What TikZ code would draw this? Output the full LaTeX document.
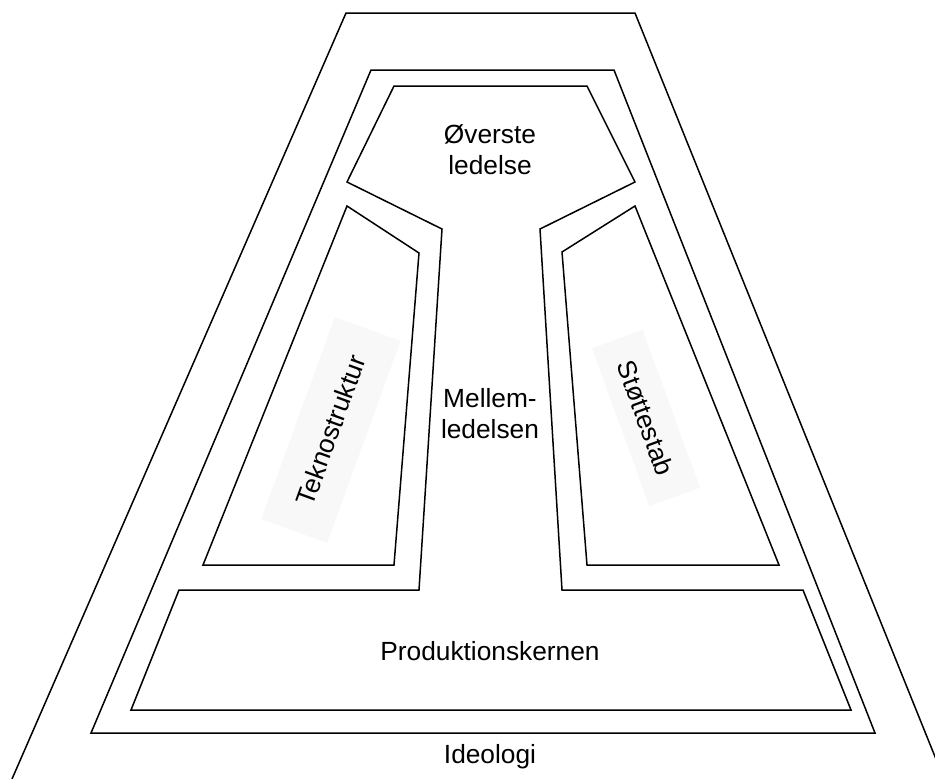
\documentclass[tikz,border=0pt]{standalone}
\usepackage{fontspec}
\setmainfont{Liberation Sans}
\definecolor{boxgray}{HTML}{F8F8F8}
\begin{document}
\begin{tikzpicture}[x=1pt,y=-1pt,
  outline/.style={draw=black,line width=1.5pt,line join=miter},
  lbl/.style={font=\fontsize{26.3}{31}\selectfont,align=center,inner sep=0pt},
  rotlbl/.style={font=\fontsize{26.3}{31}\selectfont,fill=boxgray,inner sep=0pt}]
\useasboundingbox (0,0) rectangle (935,779);
\clip (0,0) rectangle (935,779);
% outer (ideologi)
\draw[outline] (12,779) -- (346,13) -- (635,13) -- (944,779);
% second trapezoid
\draw[outline] (371,70) -- (614,70) -- (875,733) -- (91,733) -- cycle;
% inner organisation outline
\draw[outline] (394,86) -- (587,86) -- (635,182) -- (540,229) -- (562,590)
  -- (803,590) -- (851,710) -- (131,710) -- (179,590) -- (419,590)
  -- (442,229) -- (347,182) -- cycle;
% Teknostruktur
\draw[outline] (347,206) -- (419,253) -- (394,565) -- (203,565) -- cycle;
% Stoettestab
\draw[outline] (635,206) -- (562,252) -- (587,565) -- (779,565) -- cycle;
% labels
\node[rotlbl,minimum width=215pt,minimum height=70pt,rotate=70] (tek) at (331,430) {Teknostruktur};
\node[rotlbl,minimum width=168pt,minimum height=54pt,rotate=-70] (stot) at (646,418) {Støttestab};
\node[lbl,anchor=base] (top) at (490,174) {Øverste\\ledelse};
\node[lbl,anchor=base] (mid) at (490,438) {Mellem-\\ledelsen};
\node[lbl,anchor=base] (prod) at (490,660) {Produktionskernen};
\node[lbl,anchor=base] (ideo) at (490,763) {Ideologi};
\end{tikzpicture}
\end{document}
